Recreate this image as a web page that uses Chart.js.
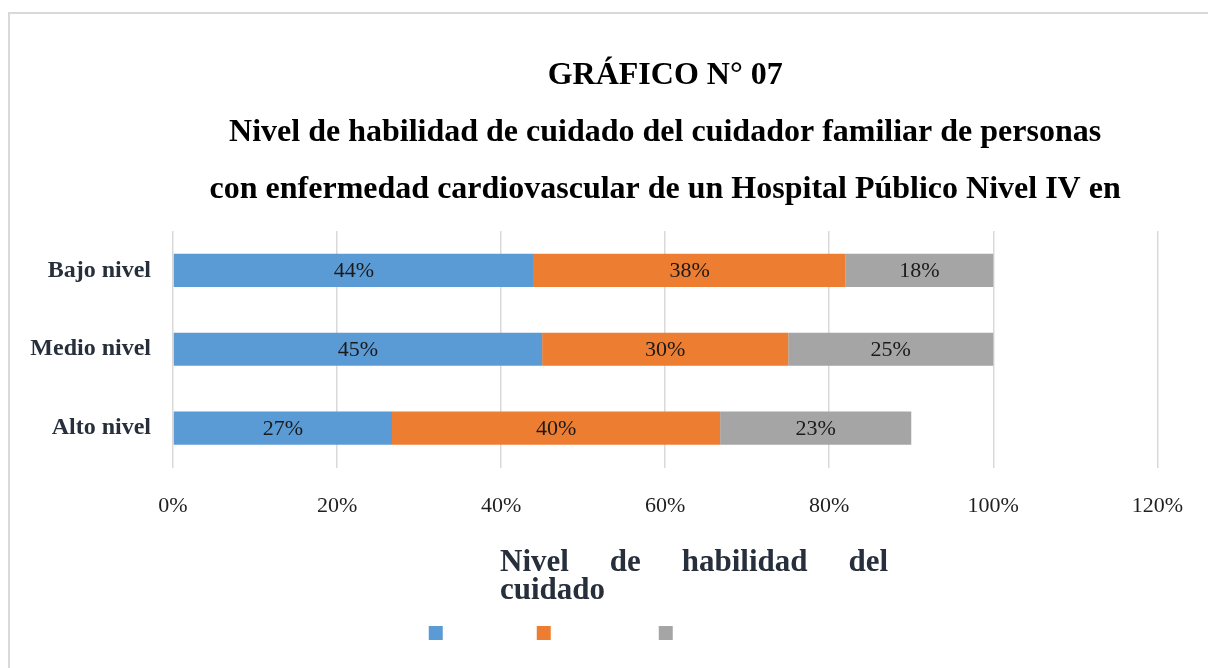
<!DOCTYPE html>
<html lang="es">
<head>
<meta charset="UTF-8">
<title>Gráfico N° 07</title>
<style>
  body { margin: 0; background: #fff; overflow: hidden; }
  .frame { position: absolute; left: 8px; top: 12px; width: 1300px; height: 700px; border: 2px solid #d9d9d9; }
  .chart-box { position: absolute; left: 0; top: 0; width: 1208px; height: 668px; }
</style>
</head>
<body>
<div class="frame"></div>
<div class="chart-box"><canvas id="grafico" width="1208" height="668"></canvas></div>

<script src="https://cdn.jsdelivr.net/npm/chart.js"></script>
<script>
// categorías (de arriba hacia abajo) y porcentajes por serie
const categorias = ['Bajo nivel', 'Medio nivel', 'Alto nivel'];
const serieAzul = [44, 45, 26.7];
const serieNaranja = [38, 30, 40];
const serieGris = [18, 25, 23.3];
const ejeX = { min: 0, max: 120, paso: 20 };

const tituloLineas = [
    'GRÁFICO N° 07',
    'Nivel de habilidad de cuidado del cuidador familiar de personas',
    'con enfermedad cardiovascular de un Hospital Público Nivel IV en'
];
const leyendaTitulo = [['Nivel', 'de', 'habilidad', 'del'], ['cuidado']];

const SERIF = "'Liberation Serif', 'Times New Roman', serif";

// etiquetas de porcentaje dentro de cada barra
const etiquetasBarras = {
    id: 'etiquetasBarras',
    afterDatasetsDraw(chart) {
        const ctx = chart.ctx;
        ctx.save();
        ctx.font = '22px ' + SERIF;
        ctx.fillStyle = '#1a1a1a';
        ctx.textAlign = 'center';
        ctx.textBaseline = 'middle';
        chart.data.datasets.forEach((ds, i) => {
            chart.getDatasetMeta(i).data.forEach((bar, j) => {
                const cx = (bar.x + bar.base) / 2;
                ctx.fillText(Math.round(ds.data[j]) + '%', cx, bar.y + 1);
            });
        });
        ctx.restore();
    }
};

// título de la leyenda, justificado como en el original
const tituloLeyenda = {
    id: 'tituloLeyenda',
    afterDraw(chart) {
        const ctx = chart.ctx;
        const left = chart.chartArea.left + 327;
        const right = chart.chartArea.left + 715;
        const base = chart.scales.x.top + 103;
        ctx.save();
        ctx.font = 'bold 31px ' + SERIF;
        ctx.fillStyle = '#262f3b';
        ctx.textBaseline = 'alphabetic';
        // línea 1 justificada
        const palabras = leyendaTitulo[0];
        const anchos = palabras.map(p => ctx.measureText(p).width);
        const hueco = (right - left - anchos.reduce((a, b) => a + b, 0)) / (palabras.length - 1);
        let x = left;
        palabras.forEach((p, i) => {
            ctx.fillText(p, x, base);
            x += anchos[i] + hueco;
        });
        // línea 2 alineada a la izquierda
        ctx.fillText(leyendaTitulo[1].join(' '), left, base + 28);
        ctx.restore();
    }
};

const espacios = [22, 26, 29];

new Chart(document.getElementById('grafico'), {
    type: 'bar',
    data: {
        labels: categorias,
        datasets: [
            { label: '', data: serieAzul, backgroundColor: '#5b9bd5' },
            { label: '', data: serieNaranja, backgroundColor: '#ed7d31' },
            { label: '', data: serieGris, backgroundColor: '#a5a5a5' }
        ]
    },
    options: {
        indexAxis: 'y',
        responsive: false,
        animation: false,
        events: [],
        layout: { padding: { left: 24, right: 22, top: 0, bottom: 18 } },
        datasets: {
            bar: { categoryPercentage: 1, barPercentage: 0.42, borderWidth: 0 }
        },
        scales: {
            x: {
                stacked: true,
                min: ejeX.min,
                max: ejeX.max,
                ticks: {
                    stepSize: ejeX.paso,
                    padding: 25,
                    color: '#1f1f1f',
                    font: { family: SERIF, size: 22 },
                    callback: v => v + '%'
                },
                grid: { color: '#d9d9d9', lineWidth: 1.5, drawTicks: false },
                border: { display: false },
                afterFit: scale => { scale.height += 72; }
            },
            y: {
                stacked: true,
                grid: { display: false },
                border: { display: false },
                ticks: {
                    padding: 14,
                    color: '#262f3b',
                    font: { family: SERIF, size: 24, weight: 'bold' }
                },
                afterFit: scale => { scale.width = 149; }
            }
        },
        plugins: {
            title: {
                display: true,
                fullSize: false,
                text: tituloLineas,
                color: '#000',
                font: { family: SERIF, size: 32, weight: 'bold', lineHeight: 1.78 },
                padding: { top: 47, bottom: 13 }
            },
            legend: {
                position: 'bottom',
                labels: {
                    boxWidth: 14,
                    boxHeight: 14,
                    padding: 10,
                    font: { family: SERIF, size: 14 },
                    generateLabels: chart => Chart.defaults.plugins.legend.labels.generateLabels(chart)
                        .map((item, i) => Object.assign(item, { text: ' '.repeat(espacios[i]), lineWidth: 0 }))
                }
            },
            tooltip: { enabled: false }
        }
    },
    plugins: [etiquetasBarras, tituloLeyenda]
});
</script>
</body>
</html>
